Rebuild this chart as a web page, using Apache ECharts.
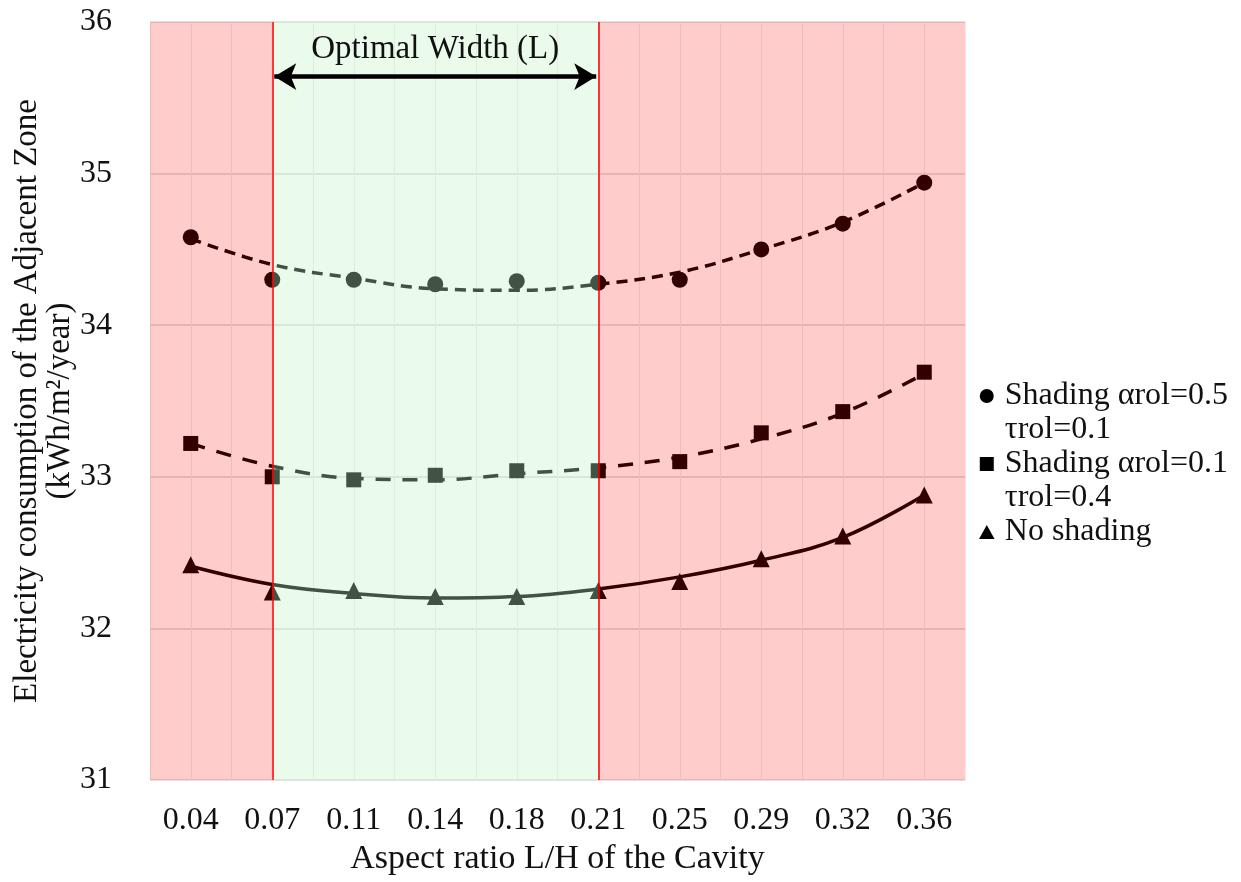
<!DOCTYPE html>
<html>
<head>
<meta charset="utf-8">
<title>Electricity consumption vs aspect ratio</title>
<script src="https://cdn.jsdelivr.net/npm/echarts@6/dist/echarts.min.js"></script>
<style>
  html, body { margin: 0; padding: 0; background: #ffffff; }
  #chart { width: 1241px; height: 882px; }
</style>
</head>
<body>
<div id="chart"></div>
<script>
// Aspect ratio L/H categories
const categories = ['0.04', '0.07', '0.11', '0.14', '0.18', '0.21', '0.25', '0.29', '0.32', '0.36'];

// Simulated consumption (kWh/m²/year)
const circlePts   = [34.58, 34.30, 34.30, 34.27, 34.29, 34.28, 34.30, 34.50, 34.67, 34.94];
const squarePts   = [33.22, 33.00, 32.98, 33.01, 33.04, 33.04, 33.10, 33.29, 33.43, 33.69];
const trianglePts = [32.42, 32.24, 32.25, 32.21, 32.21, 32.25, 32.31, 32.46, 32.61, 32.88];

// Fitted trend curves at each category
const circleTrend   = [34.57, 34.40, 34.31, 34.24, 34.23, 34.27, 34.35, 34.50, 34.68, 34.94];
const squareTrend   = [33.22, 33.07, 32.99, 32.98, 33.02, 33.06, 33.13, 33.25, 33.42, 33.68];
const triangleTrend = [32.41, 32.29, 32.23, 32.20, 32.21, 32.26, 32.34, 32.45, 32.60, 32.88];

const seriesNames = ['Shading \u03b1rol=0.5\n\u03c4rol=0.1', 'Shading \u03b1rol=0.1\n\u03c4rol=0.4', 'No shading'];

// Optimal range, in half-band units of the secondary x axis (0.07 -> 3, 0.21 -> 11)
const optimalStart = 3;
const optimalEnd = 11;
const halfBands = 20;
const arrowLevel = 35.64;

const FONT = '"Liberation Serif", "Times New Roman", serif';
const LH = 34;

// square-shaped legend icons drawn as paths so they keep their aspect
const SQUARE_ICON = 'path://M0,0L10,0L10,10L0,10Z';
const TRIANGLE_ICON = 'path://M5,0L10,9L0,9Z';

const chart = echarts.init(document.getElementById('chart'), null, { renderer: 'canvas' });

chart.setOption({
  animation: false,
  backgroundColor: '#ffffff',
  textStyle: { fontFamily: FONT },
  grid: { left: 150, right: 276, top: 22, bottom: 102, containLabel: false, outerBoundsMode: 'none' },
  legend: {
    orient: 'vertical',
    left: 974,
    top: 340,
    itemGap: -LH,
    itemWidth: 26,
    itemHeight: 14,
    symbolKeepAspect: true,
    selectedMode: false,
    // a blank leading line keeps each icon level with the first line of its label
    formatter: function (name) {
      const lines = name.split('\n');
      return '\n' + lines[0] + '\n' + (lines[1] || '');
    },
    textStyle: { fontFamily: FONT, fontSize: 32, color: '#111', lineHeight: LH },
    data: [
      { name: seriesNames[0], icon: 'circle' },
      { name: seriesNames[1], icon: SQUARE_ICON },
      { name: seriesNames[2], icon: TRIANGLE_ICON }
    ]
  },
  xAxis: [
    {
      type: 'category',
      data: categories,
      boundaryGap: true,
      axisLine: { show: false },
      axisTick: { show: false },
      splitLine: { show: false },
      axisLabel: { fontFamily: FONT, fontSize: 32, color: '#111', margin: 25 },
      name: 'Aspect ratio L/H of the Cavity',
      nameLocation: 'middle',
      nameGap: 62,
      nameMoveOverlap: false,
      nameTextStyle: { fontFamily: FONT, fontSize: 34, color: '#111' }
    },
    {
      // half-band grid used for vertical gridlines and the shaded zones
      type: 'value',
      position: 'bottom',
      min: 0,
      max: halfBands,
      interval: 1,
      axisLine: { show: false },
      axisTick: { show: false },
      axisLabel: { show: false },
      splitLine: { show: true, lineStyle: { color: '#ececec', width: 1 } }
    }
  ],
  yAxis: {
    type: 'value',
    min: 31,
    max: 36,
    interval: 1,
    axisLine: { show: false },
    axisTick: { show: false },
    axisLabel: { fontFamily: FONT, fontSize: 32, color: '#111', margin: 38 },
    splitLine: { show: true, lineStyle: { color: '#d9d9d9', width: 1.5 } },
    name: 'Electricity consumption of the Adjacent Zone\n(kWh/m\u00b2/year)',
    nameLocation: 'middle',
    nameGap: 73,
    nameMoveOverlap: false,
    nameTextStyle: { fontFamily: FONT, fontSize: 33, color: '#111', lineHeight: 33 }
  },
  series: [
    {
      name: 'trend-circle', type: 'line', data: circleTrend, smooth: 0.4,
      showSymbol: false, silent: true, z: 2,
      lineStyle: { color: '#000', width: 3.5, type: [11, 7] }
    },
    {
      name: 'trend-square', type: 'line', data: squareTrend, smooth: 0.4,
      showSymbol: false, silent: true, z: 2,
      lineStyle: { color: '#000', width: 3.5, type: [15, 12] }
    },
    {
      name: 'trend-triangle', type: 'line', data: triangleTrend, smooth: 0.4,
      showSymbol: false, silent: true, z: 2,
      lineStyle: { color: '#000', width: 3.5 }
    },
    {
      name: seriesNames[0], type: 'scatter', data: circlePts,
      symbol: 'circle', symbolSize: 16, itemStyle: { color: '#000', opacity: 1 }, z: 3
    },
    {
      name: seriesNames[1], type: 'scatter', data: squarePts,
      symbol: 'rect', symbolSize: 15, itemStyle: { color: '#000', opacity: 1 }, z: 3
    },
    {
      name: seriesNames[2], type: 'scatter', data: trianglePts,
      symbol: 'triangle', symbolSize: 17, itemStyle: { color: '#000', opacity: 1 }, z: 3
    },
    {
      // tinted zones laid over the plot, plus the red boundary lines
      name: 'zones', type: 'line', xAxisIndex: 1, yAxisIndex: 0, data: [], silent: true,
      markArea: {
        silent: true,
        z: 10,
        data: [
          [{ xAxis: 0, itemStyle: { color: 'rgba(255,0,0,0.2)' } }, { xAxis: optimalStart }],
          [{ xAxis: optimalStart, itemStyle: { color: 'rgba(195,242,195,0.34)' } }, { xAxis: optimalEnd }],
          [{ xAxis: optimalEnd, itemStyle: { color: 'rgba(255,0,0,0.2)' } }, { xAxis: halfBands }]
        ]
      },
      markLine: {
        silent: true,
        z: 11,
        symbol: ['none', 'none'],
        label: { show: false },
        lineStyle: { color: '#ff0000', width: 1.5, type: 'solid' },
        data: [{ xAxis: optimalStart }, { xAxis: optimalEnd }]
      }
    },
    {
      name: 'optimal-arrow', type: 'line', xAxisIndex: 1, yAxisIndex: 0, data: [], silent: true,
      markLine: {
        silent: true,
        z: 12,
        symbol: ['arrow', 'arrow'],
        symbolSize: [20, 22],
        lineStyle: { color: '#000', width: 4.5, type: 'solid' },
        label: {
          show: true,
          position: 'middle',
          formatter: 'Optimal Width (L)',
          fontFamily: FONT,
          fontSize: 33,
          color: '#111',
          distance: 11
        },
        data: [[{ coord: [optimalStart + 0.05, arrowLevel] }, { coord: [optimalEnd - 0.05, arrowLevel] }]]
      }
    }
  ]
});
</script>
</body>
</html>
